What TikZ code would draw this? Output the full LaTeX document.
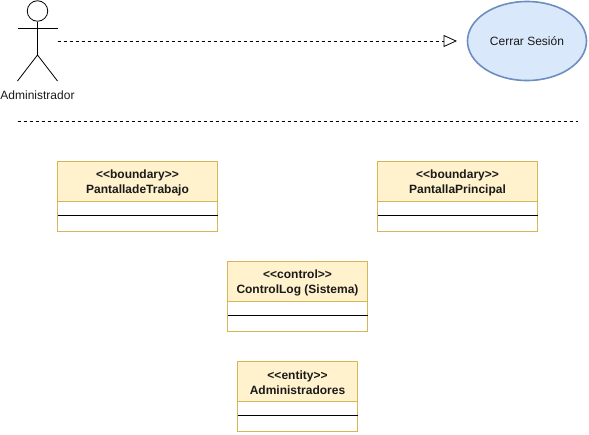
\documentclass[tikz,border=0pt]{standalone}
\usepackage{fontspec}
\setmainfont[Ligatures=TeXOff]{Liberation Sans}
\usetikzlibrary{arrows.meta,shapes.geometric}
\definecolor{hdrfill}{HTML}{FFF2CC}
\definecolor{hdrline}{HTML}{D6B656}
\definecolor{ucfill}{HTML}{DAE8FC}
\definecolor{ucline}{HTML}{6C8EBF}
\definecolor{txt}{HTML}{1A1A1A}
\tikzset{
  x=1pt,y=-1pt,
  classhead/.style={draw=hdrline,fill=hdrfill,line width=1pt,rectangle,outer sep=0pt,minimum height=40pt,inner sep=0pt,align=center,font=\fontsize{12}{15}\selectfont\bfseries,text=txt},
  classbody/.style={draw=hdrline,fill=white,line width=1pt,rectangle,outer sep=0pt,minimum height=30pt,inner sep=0pt},
  divider/.style={draw=black,line width=1pt},
  actorline/.style={draw=black,line width=0.8pt},
  dashline/.style={draw=black,line width=0.8pt,dash pattern=on 3pt off 3pt},
  lbl/.style={font=\fontsize{12}{15}\selectfont,text=txt,inner sep=0pt}
}
\newcommand{\classbox}[5]{% name, cx, top, width, text
  \node[classhead,minimum width=#4pt,anchor=north] (#1) at (#2,#3) {\raisebox{-1pt}[\height][\depth]{\parbox{#4pt}{\centering #5}}};
  \node[classbody,minimum width=#4pt,anchor=north] (#1b) at (#1.south) {};
  \draw[divider] ([yshift=1pt]#1b.west) -- ([yshift=1pt]#1b.east);
}
\begin{document}
\begin{tikzpicture}
\useasboundingbox (0,0) rectangle (589,434);
% actor
\node[circle,draw=black,line width=0.8pt,minimum size=20.5pt,inner sep=0pt] (head) at (37.5,11) {};
\coordinate (hip) at (37.5,55);
\coordinate (handl) at (17.5,28);
\coordinate (handr) at (57.5,28);
\coordinate (footl) at (17.5,81);
\coordinate (footr) at (57.5,81);
\draw[actorline] (head.south) -- (hip);
\draw[actorline] (handl) -- (handr);
\draw[actorline] (footl) -- (hip) -- (footr);
\node[lbl] (actorlabel) at (37.5,95) {Administrador};
% use case
\node[ellipse,draw=ucline,fill=ucfill,line width=1.6pt,minimum width=119pt,minimum height=79pt,inner sep=0pt,font=\fontsize{12}{15}\selectfont,text=txt] (uc) at (527,41) {Cerrar Sesión};
% dependency
\coordinate (depstart) at (57.5,41);
\coordinate (depend) at (457,41);
\draw[dashline,-{Triangle[open,length=13.5pt,width=12pt,line width=0.8pt]}] (depstart) -- (depend);
% separator
\coordinate (sepl) at (17.5,121.5);
\coordinate (sepr) at (577.5,121.5);
\draw[dashline] (sepl) -- (sepr);
% classes
\classbox{c1}{137.5}{161.5}{160}{<<boundary>>\\PantalladeTrabajo}
\classbox{c2}{457.5}{161.5}{160}{<<boundary>>\\PantallaPrincipal}
\classbox{c3}{297.5}{261.5}{140}{<<control>>\\ControlLog (Sistema)}
\classbox{c4}{297.5}{361.5}{120}{<<entity>>\\Administradores}
\end{tikzpicture}
\end{document}
